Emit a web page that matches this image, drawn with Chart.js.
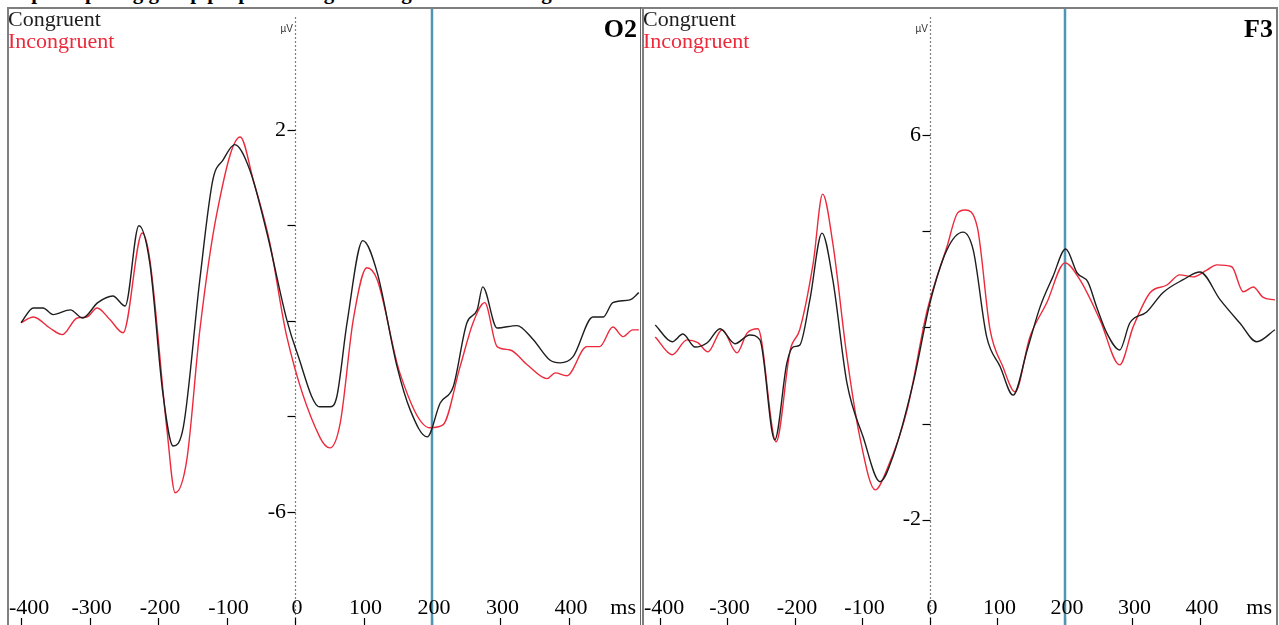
<!DOCTYPE html>
<html>
<head>
<meta charset="utf-8">
<script src="https://cdn.jsdelivr.net/npm/chart.js@4.4.1/dist/chart.umd.min.js"></script>
<style>
  html, body { margin: 0; padding: 0; background: #fff; }
  body { width: 1279px; height: 625px; position: relative; overflow: hidden; font-family: "Liberation Serif", serif; }
  .line { position: absolute; background: #7f7f7f; }
  canvas { position: absolute; }
  #title { position: absolute; left: 8px; top: -20px; font: bold 21px "Liberation Serif", serif; white-space: nowrap; }
</style>
</head>
<body>
<div id="title">Superimposing group proper averages: Congruent vs Incongruent</div>
<div class="line" style="left:7px;top:7px;width:1271px;height:2px"></div>
<div class="line" style="left:7px;top:7px;width:2px;height:618px"></div>
<div class="line" style="left:640px;top:7px;width:1px;height:618px;background:#666"></div>
<div class="line" style="left:642px;top:7px;width:2px;height:618px"></div>
<div class="line" style="left:1276px;top:7px;width:2px;height:618px"></div>
<canvas id="chartO2" width="631" height="616" style="left:9px;top:9px"></canvas>
<canvas id="chartF3" width="632" height="616" style="left:644px;top:9px"></canvas>
<script>
// time axis (ms) ticks, shared by both panels
const xTicks = [-400, -300, -200, -100, 0, 100, 200, 300, 400];
const markerMs = 200;

// O2 channel
const o2CongTime = [-400,-382,-368,-353,-328,-310,-288,-266,-248,-228,-212,-193,-178,-163,-139,-120,-105,-88,-66,-41,-12,3,36,51,61,76,99,120,149,168,193,212,231,251,266,274,295,324,347,372,387,406,435,450,464,489,502];
const o2CongUv = [-2.04,-1.73,-1.73,-1.87,-1.77,-1.94,-1.62,-1.48,-1.69,-0.01,-0.79,-3.51,-4.62,-4.22,-1.14,0.95,1.37,1.69,1.16,-0.16,-1.98,-2.67,-3.80,-3.80,-3.59,-2.04,-0.32,-0.99,-2.96,-3.86,-4.43,-3.72,-3.38,-2.04,-1.77,-1.29,-2.15,-2.10,-2.38,-2.82,-2.88,-2.75,-1.92,-1.92,-1.62,-1.56,-1.41];
const o2IncTime = [-400,-382,-358,-340,-318,-304,-289,-270,-251,-223,-212,-187,-175,-158,-139,-114,-80,-61,-37,-12,36,51,66,85,105,120,153,197,216,241,260,277,295,314,339,368,380,397,426,445,464,479,493,502];
const o2IncUv = [-2.04,-1.92,-2.15,-2.29,-1.94,-1.92,-1.73,-1.98,-2.25,-0.16,-0.72,-4.28,-5.60,-4.91,-2.2,0.26,1.85,0.95,-0.35,-2.33,-4.43,-4.66,-4.14,-1.98,-0.89,-1.14,-3.09,-4.24,-4.18,-2.96,-2.04,-1.62,-2.54,-2.61,-2.92,-3.21,-3.09,-3.15,-2.54,-2.54,-2.13,-2.33,-2.19,-2.19];
const o2YTicks = [2, 0, -2, -4, -6];
const o2YLabels = [2, -6];

// F3 channel
const f3CongTime = [-407,-382,-366,-348,-330,-311,-289,-267,-252,-230,-212,-203,-193,-178,-160,-144,-123,-99,-74,-55,-25,0,25,49,64,84,104,123,144,163,182,201,218,234,247,262,281,296,321,345,375,400,430,459,484,511];
const f3CongUv = [2.05,1.70,1.86,1.59,1.68,1.97,1.66,1.84,1.74,-0.34,1.26,1.59,1.63,2.57,3.96,2.99,0.84,-0.28,-1.21,-0.69,0.84,2.51,3.61,3.98,3.61,1.80,1.18,0.59,1.53,2.42,3.05,3.63,3.13,2.94,2.42,1.88,1.53,2.09,2.32,2.72,2.99,3.15,2.57,2.09,1.70,1.95];
const f3IncTime = [-407,-382,-360,-344,-329,-308,-286,-271,-255,-228,-207,-193,-173,-159,-144,-123,-104,-81,-64,-34,-4,25,41,52,70,89,108,126,148,173,200,222,252,281,301,326,351,370,390,410,425,447,464,479,493,511];
const f3IncUv = [1.80,1.43,1.74,1.68,1.49,1.95,1.47,1.88,1.97,-0.38,1.53,1.95,3.34,4.77,3.75,1.38,-0.28,-1.38,-0.96,0.28,2.36,3.67,4.38,4.44,4.09,1.95,1.18,0.66,1.80,2.51,3.34,2.99,2.15,1.22,2.01,2.72,2.88,3.09,3.05,3.19,3.30,3.26,2.74,2.84,2.63,2.57];
const f3YTicks = [6, 4, 2, 0, -2];
const f3YLabels = [6, -2];

const congColor = '#1e1e1e';
const incColor = '#ec2a3c';
const markerColor = '#4e97b3';
const serif = '"Liberation Serif", "Times New Roman", serif';

function toPoints(t, v) {
  return t.map((ms, i) => ({ x: ms, y: v[i] }));
}

// draws the EEG-style axes: dotted zero line, y ticks, time ticks under the labels
const eegAxes = {
  id: 'eegAxes',
  beforeDatasetsDraw(chart, args, opts) {
    const { ctx, chartArea } = chart;
    const xs = chart.scales.x, ys = chart.scales.y;
    const x0 = Math.round(xs.getPixelForValue(0)) + 0.5;
    ctx.save();
    ctx.strokeStyle = '#808080';
    ctx.lineWidth = 1.2;
    ctx.setLineDash([2, 2]);
    ctx.beginPath();
    ctx.moveTo(x0, chartArea.top + 8);
    ctx.lineTo(x0, chartArea.bottom);
    ctx.stroke();
    ctx.setLineDash([]);
    ctx.strokeStyle = '#000';
    ctx.lineWidth = 1.2;
    opts.yTicks.forEach(v => {
      const y = Math.round(ys.getPixelForValue(v)) + 0.5;
      ctx.beginPath();
      ctx.moveTo(x0 - 8, y);
      ctx.lineTo(x0, y);
      ctx.stroke();
    });
    xTicks.forEach(v => {
      const x = Math.round(xs.getPixelForValue(v)) + 0.5;
      ctx.beginPath();
      ctx.moveTo(x, chartArea.bottom - 7);
      ctx.lineTo(x, chartArea.bottom);
      ctx.stroke();
    });
    ctx.restore();
  },
  afterDraw(chart, args, opts) {
    const { ctx, chartArea } = chart;
    const xs = chart.scales.x, ys = chart.scales.y;
    const x0 = xs.getPixelForValue(0);
    ctx.save();
    ctx.textBaseline = 'middle';
    ctx.font = '22px ' + serif;
    ctx.fillStyle = '#000';
    ctx.textAlign = 'right';
    opts.yLabels.forEach(v => {
      ctx.fillText(String(v), x0 - 9, ys.getPixelForValue(v));
    });
    xTicks.forEach(v => {
      const label = String(v);
      const w = ctx.measureText(label).width;
      let x = xs.getPixelForValue(v) + 2;
      x = Math.max(x, chartArea.left + w / 2);
      ctx.textAlign = 'center';
      ctx.fillText(label, x, chartArea.bottom - 17);
    });
    ctx.textAlign = 'right';
    ctx.fillText('ms', chartArea.right - 4, chartArea.bottom - 17);

    // legend
    ctx.font = '22px ' + serif;
    ctx.textAlign = 'left';
    ctx.fillStyle = congColor;
    ctx.fillText('Congruent', chartArea.left - 1, chartArea.top + 11);
    ctx.fillStyle = incColor;
    ctx.fillText('Incongruent', chartArea.left - 1, chartArea.top + 33);

    // channel name
    ctx.fillStyle = '#000';
    ctx.textAlign = 'right';
    ctx.font = 'bold 26px ' + serif;
    ctx.fillText(opts.channel, chartArea.right - 3, chartArea.top + 21);

    // unit
    ctx.font = '10px "Liberation Sans", sans-serif';
    ctx.fillStyle = '#333';
    ctx.fillText('\u00b5V', x0 - 2, chartArea.top + 20);
    ctx.restore();
  }
};

function makePanel(id, channel, xMin, xMax, yMin, yMax, congT, congV, incT, incV, yTicks, yLabels) {
  const ctx = document.getElementById(id);
  return new Chart(ctx, {
    type: 'line',
    data: {
      datasets: [
        {
          label: 'Congruent',
          data: toPoints(congT, congV),
          borderColor: congColor,
          borderWidth: 1.4,
          pointRadius: 0,
          cubicInterpolationMode: 'monotone',
          order: 0
        },
        {
          label: 'Incongruent',
          data: toPoints(incT, incV),
          borderColor: incColor,
          borderWidth: 1.4,
          pointRadius: 0,
          cubicInterpolationMode: 'monotone',
          order: 1
        },
        {
          label: 'marker',
          data: [{ x: markerMs, y: yMin }, { x: markerMs, y: yMax }],
          borderColor: markerColor,
          borderWidth: 2.5,
          pointRadius: 0,
          order: 2
        }
      ]
    },
    options: {
      responsive: false,
      animation: false,
      events: [],
      layout: { padding: 0 },
      plugins: {
        legend: { display: false },
        tooltip: { enabled: false },
        eegAxes: { channel: channel, yTicks: yTicks, yLabels: yLabels }
      },
      scales: {
        x: { type: 'linear', min: xMin, max: xMax, display: false },
        y: { type: 'linear', min: yMin, max: yMax, display: false }
      }
    },
    plugins: [eegAxes]
  });
}

makePanel('chartO2', 'O2', -417.6, 503.7, -8.37, 4.53, o2CongTime, o2CongUv, o2IncTime, o2IncUv, o2YTicks, o2YLabels);
makePanel('chartF3', 'F3', -423.7, 512.6, -4.19, 8.62, f3CongTime, f3CongUv, f3IncTime, f3IncUv, f3YTicks, f3YLabels);
</script>
</body>
</html>
